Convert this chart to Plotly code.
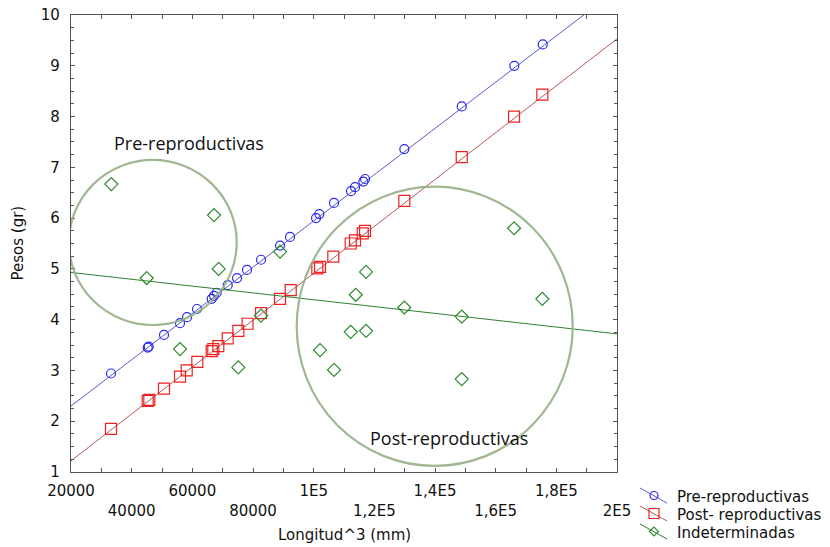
import plotly.graph_objects as go

# ---------------- data ----------------
pre_x = [33188, 45288, 45618, 50662, 55937, 58245, 61542, 66389, 67147, 68037,
         71664, 74730, 78027, 82643, 88907, 92204, 100777, 101865, 106711,
         112316, 113635, 116372, 116932, 129889, 148814, 166156, 175520]
pre_y = [2.94, 3.45, 3.47, 3.70, 3.93, 4.05, 4.21, 4.41, 4.47, 4.53,
         4.68, 4.82, 4.98, 5.18, 5.46, 5.63, 6.00, 6.08, 6.30,
         6.53, 6.61, 6.72, 6.77, 7.36, 8.20, 9.00, 9.42]

post_x = [33188, 45288, 45816, 50662, 55937, 58146, 61641, 66389, 66916, 68565,
          71664, 75159, 78192, 82643, 88907, 92435, 101206, 102096, 106481,
          112217, 113635, 116174, 116932, 129889, 148814, 166057, 175388]
post_y = [1.85, 2.40, 2.42, 2.64, 2.88, 3.00, 3.17, 3.38, 3.42, 3.48,
          3.63, 3.78, 3.92, 4.13, 4.41, 4.58, 5.01, 5.04, 5.24,
          5.50, 5.56, 5.70, 5.75, 6.34, 7.20, 8.00, 8.43]

ind_x = [33287, 44958, 67147, 68697, 55937, 75159, 88907, 82643, 102096, 106711,
         112217, 117261, 113866, 117261, 129889, 148814, 148814, 166057, 175388]
ind_y = [6.67, 4.82, 6.06, 5.00, 3.42, 3.06, 5.34, 4.08, 3.40, 3.01,
         3.76, 3.78, 4.49, 4.94, 4.24, 4.06, 2.83, 5.80, 4.41]

# fitted lines (end points)
fit_x = [20000, 200000]
pre_fit_y = [2.30, 10.50]
post_fit_y = [1.22, 9.53]
ind_fit_y = [4.93, 3.72]

x_tickvals = [20000, 40000, 60000, 80000, 100000, 120000, 140000, 160000, 180000, 200000]
x_ticktext = ["20000", "<br>40000", "60000", "<br>80000", "1E5",
              "<br>1,2E5", "1,4E5", "<br>1,6E5", "1,8E5", "<br>2E5"]
y_tickvals = [1, 2, 3, 4, 5, 6, 7, 8, 9, 10]

names = ["Pre-reproductivas", "Post- reproductivas", "Indeterminadas"]

# ---------------- styles ----------------
BLUE_M, BLUE_L = "#2a2af0", "#5a5ad0"
RED_M, RED_L = "#f02020", "#b85858"
GRN_M, GRN_L = "#2e8b2e", "#2f7f2f"
FONT = "DejaVu Sans"

# plot area in pixels (for the hand-drawn legend)
PL, PR, PT, PB = 71, 617, 15, 472


def px_x(p):
    return (p - PL) / (PR - PL)


def px_y(p):
    return (PB - p) / (PB - PT)


fig = go.Figure()

series = [
    (pre_x, pre_y, pre_fit_y, BLUE_M, BLUE_L, "circle-open", 9),
    (post_x, post_y, post_fit_y, RED_M, RED_L, "square-open", 11),
    (ind_x, ind_y, ind_fit_y, GRN_M, GRN_L, "diamond-open", 10),
]

for (sx, sy, fy, mc, lc, sym, sz), nm in zip(series, names):
    fig.add_trace(go.Scatter(x=fit_x, y=fy, mode="lines",
                             line=dict(color=lc, width=1), showlegend=False,
                             hoverinfo="skip"))
    fig.add_trace(go.Scatter(x=sx, y=sy, mode="markers", name=nm,
                             marker=dict(symbol=sym, size=sz, color=mc,
                                         line=dict(width=1.2, color=mc)),
                             showlegend=False))

# group ellipses
CIRC = "rgba(150,175,135,0.9)"
fig.add_shape(type="circle", xref="x", yref="y", x0=19300, x1=74631, y0=3.895, y1=7.145,
              line=dict(color=CIRC, width=2.2))
fig.add_shape(type="circle", xref="x", yref="y", x0=94413, x1=185410, y0=1.12, y1=6.62,
              line=dict(color=CIRC, width=2.2))

fig.add_annotation(x=58905, y=7.48, xref="x", yref="y", text="Pre-reproductivas",
                   showarrow=False, font=dict(family="Open Sans", size=18, color="#111"))
fig.add_annotation(x=144627, y=1.67, xref="x", yref="y", text="Post-reproductivas",
                   showarrow=False, font=dict(family="Open Sans", size=18, color="#111"))

# axis titles
fig.add_annotation(x=0.5, y=0, xref="paper", yref="paper", yshift=-63,
                   xanchor="center", yanchor="middle",
                   text="Longitud^3 (mm)", showarrow=False,
                   font=dict(family=FONT, size=15, color="#111"))
fig.add_annotation(x=0, y=0.5, xref="paper", yref="paper", xshift=-54,
                   xanchor="center", yanchor="middle",
                   text="Pesos (gr)", textangle=-90, showarrow=False,
                   font=dict(family=FONT, size=15, color="#111"))

# hand-drawn legend (diagonal sample lines like the reference)
leg_rows = [497, 515, 533]
for (sx, sy, fy, mc, lc, sym, sz), nm, ry in zip(series, names, leg_rows):
    fig.add_shape(type="line", xref="paper", yref="paper",
                  x0=px_x(640), y0=px_y(ry - 9), x1=px_x(667), y1=px_y(ry + 6),
                  line=dict(color=lc, width=1))
    cx, cy = 654, ry - 1.5
    if sym.startswith("circle"):
        fig.add_shape(type="circle", xref="paper", yref="paper",
                      x0=px_x(cx - 4), x1=px_x(cx + 4), y0=px_y(cy + 4), y1=px_y(cy - 4),
                      line=dict(color=mc, width=1.2))
    elif sym.startswith("square"):
        fig.add_shape(type="rect", xref="paper", yref="paper",
                      x0=px_x(cx - 5), x1=px_x(cx + 5), y0=px_y(cy + 5), y1=px_y(cy - 5),
                      line=dict(color=mc, width=1.2))
    else:
        d = 4.5
        path = "M {a},{b} L {c},{d2} L {e},{f} L {g},{h} Z".format(
            a=px_x(cx - d), b=px_y(cy), c=px_x(cx), d2=px_y(cy - d),
            e=px_x(cx + d), f=px_y(cy), g=px_x(cx), h=px_y(cy + d))
        fig.add_shape(type="path", xref="paper", yref="paper", path=path,
                      line=dict(color=mc, width=1.2))
    fig.add_annotation(x=px_x(675), y=px_y(ry), xref="paper", yref="paper",
                       xanchor="left", yanchor="middle", text=nm, showarrow=False,
                       font=dict(family=FONT, size=15, color="#111"))

axis_common = dict(showline=True, linecolor="#555", linewidth=1.3, mirror="ticks",
                   ticks="inside", ticklen=4, tickcolor="#555", showgrid=False,
                   zeroline=False, tickfont=dict(family=FONT, size=15, color="#111"))

fig.update_xaxes(range=[20000, 200000], tickvals=x_tickvals, ticktext=x_ticktext,
                 ticklabelstandoff=5,
                 minor=dict(dtick=10000, tick0=20000, ticks="inside", ticklen=4,
                            tickcolor="#555", showgrid=False),
                 **axis_common)
fig.update_yaxes(range=[1, 10], tickvals=y_tickvals, ticklabelstandoff=7,
                 minor=dict(dtick=0.25, tick0=1, ticks="inside", ticklen=3,
                            tickcolor="#555", showgrid=False),
                 **axis_common)

fig.update_layout(
    width=830, height=547,
    margin=dict(l=71, r=213, t=15, b=75, autoexpand=False),
    paper_bgcolor="white", plot_bgcolor="white",
    showlegend=False,
)

fig.write_html("out.html")
